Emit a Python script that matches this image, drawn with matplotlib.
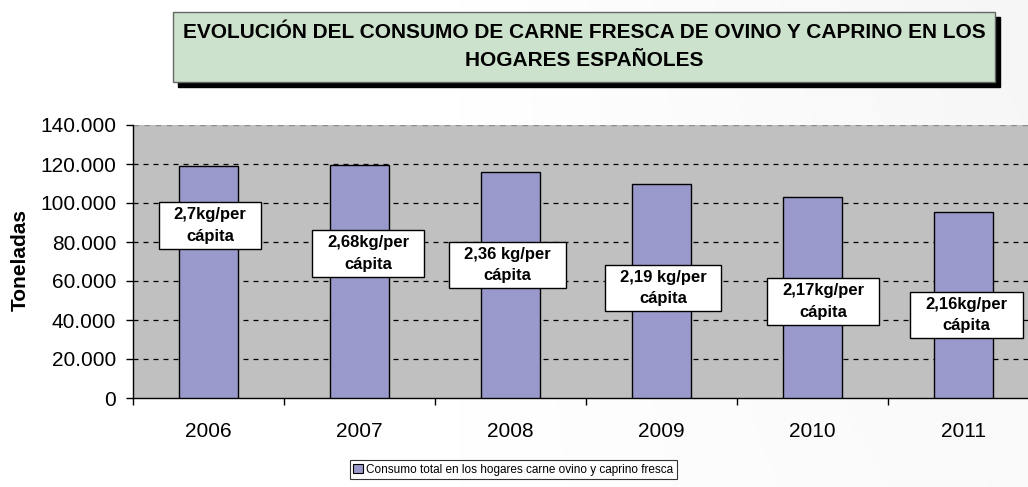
import matplotlib
matplotlib.use("Agg")
import matplotlib.pyplot as plt
from matplotlib.patches import Rectangle, Patch
import numpy as np

plt.rcParams['font.family'] = ['Liberation Sans', 'DejaVu Sans']

years = ['2006', '2007', '2008', '2009', '2010', '2011']
consumo = [119000, 119500, 116000, 110000, 103000, 95500]
per_capita = ['2,7kg/per\ncápita', '2,68kg/per\ncápita', '2,36 kg/per\ncápita',
              '2,19 kg/per\ncápita', '2,17kg/per\ncápita', '2,16kg/per\ncápita']
y_ticks = [0, 20000, 40000, 60000, 80000, 100000, 120000, 140000]
y_ticklabels = ['0', '20.000', '40.000', '60.000', '80.000', '100.000', '120.000', '140.000']

# placement of the per-capita callouts (data coordinates)
callout_x = [0.01, 1.056, 1.98, 3.01, 4.07, 5.02]
callout_y = [88500, 74100, 68200, 56400, 49500, 42600]

W, H = 1028, 487
fig = plt.figure(figsize=(W / 100, H / 100), dpi=100)
fig.patch.set_facecolor('white')

# faint light-grey sheen towards the right of the page
bg = fig.add_axes([0, 0, 1, 1], zorder=-10)
gx = np.linspace(0, 1, 256)
gy = np.linspace(0, 1, 128)
GX, GY = np.meshgrid(gx, gy)
shade = 1.0 - 0.035 * np.clip((GX - 0.45) / 0.55, 0, 1) * (0.6 + 0.4 * GY)
bg.imshow(np.dstack([shade] * 3), aspect='auto', extent=(0, 1, 0, 1), origin='lower',
          interpolation='bilinear')
bg.set_axis_off()

ax = fig.add_axes([133 / W, 89 / H, (1039 - 133) / W, (398 - 125) / H])
ax.set_facecolor('#c0c0c0')

x = np.arange(len(years))
ax.bar(x, consumo, width=0.39, color='#9999cc', edgecolor='black', linewidth=1.0, zorder=3)

ax.set_xlim(-0.5, len(years) - 0.5)
ax.set_ylim(0, 140000)
ax.set_yticks(y_ticks)
ax.set_yticklabels(y_ticklabels, fontsize=15)
ax.set_xticks(x)
ax.set_xticklabels(years, fontsize=15)
ax.set_xticks(np.arange(-0.5, len(years)), minor=True)
ax.tick_params(axis='x', which='major', length=0, pad=17)
ax.tick_params(axis='x', which='minor', length=5, width=1, color='black')
ax.tick_params(axis='y', length=5, width=1, color='black', pad=7)

for yv in y_ticks[1:-1]:
    ax.axhline(yv, color='black', lw=0.9, ls=(0, (4, 4)), zorder=1)
ax.axhline(140000, color='#8c8c8c', lw=1.0, ls=(0, (4, 4)), zorder=1)

for side in ['top', 'right']:
    ax.spines[side].set_visible(False)
ax.spines['left'].set_linewidth(1.0)
ax.spines['bottom'].set_linewidth(1.0)

fig.text(20 / W, (H - 260) / H, 'Toneladas', rotation=90, ha='center', va='center',
         fontsize=15, fontweight='bold')

# per-capita callouts: text first, then a white box sized around it
texts = []
for cx, cy, txt in zip(callout_x, callout_y, per_capita):
    t = ax.text(cx, cy, txt, ha='center', va='center', fontsize=12, fontweight='bold',
                linespacing=1.55, zorder=6)
    texts.append(t)
fig.canvas.draw()
renderer = fig.canvas.get_renderer()
padx, pady = 15, 5
for t in texts:
    bb = t.get_window_extent(renderer)
    rect = Rectangle(((bb.x0 - padx) / W, (bb.y0 - pady) / H),
                     (bb.width + 2 * padx) / W, (bb.height + 2 * pady) / H,
                     transform=fig.transFigure, facecolor='white', edgecolor='black',
                     lw=1.0, zorder=5)
    ax.add_artist(rect)
    rect.set_clip_on(False)

# Title banner with drop shadow
bx0, by0, bw, bh = 173 / W, (H - 82) / H, (995 - 173) / W, 70 / H
fig.patches.append(Rectangle((bx0 + 5 / W, by0 - 5 / H), bw, bh, transform=fig.transFigure,
                             facecolor='black', edgecolor='black', zorder=1))
fig.patches.append(Rectangle((bx0, by0), bw, bh, transform=fig.transFigure,
                             facecolor='#cde2cd', edgecolor='#666666', lw=1.0, zorder=2))
fig.text(bx0 + bw / 2, (H - 47) / H,
         'EVOLUCIÓN DEL CONSUMO DE CARNE FRESCA DE OVINO Y CAPRINO EN LOS\nHOGARES ESPAÑOLES',
         ha='center', va='center', fontsize=15, fontweight='bold', linespacing=1.6, zorder=3)

handle = Patch(facecolor='#9999cc', edgecolor='black', lw=0.8)
leg = fig.legend([handle], ['Consumo total en los hogares carne ovino y caprino fresca'],
                 loc='center', bbox_to_anchor=(513.5 / W, (H - 469.5) / H), fontsize=8.5,
                 frameon=True, fancybox=False, edgecolor='black', handlelength=0.8,
                 handleheight=0.8, handletextpad=0.3, borderpad=0.3, borderaxespad=0)
leg.get_frame().set_linewidth(0.8)

fig.savefig('out.png', dpi=100)
